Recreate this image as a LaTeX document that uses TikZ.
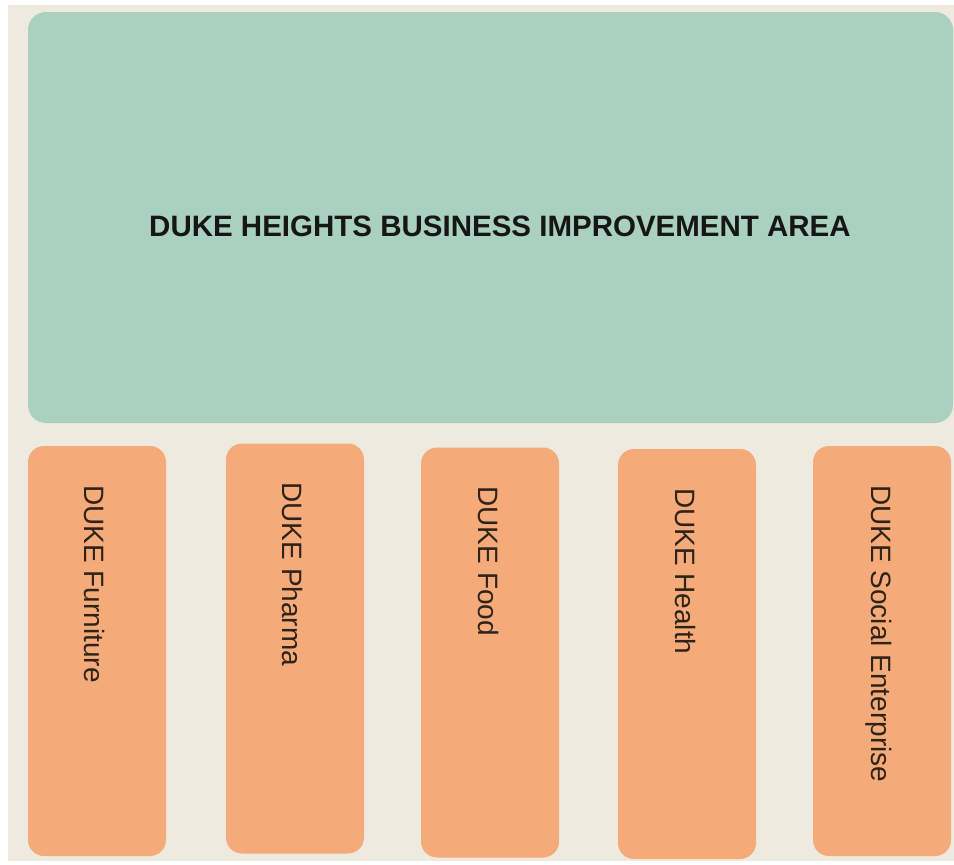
\documentclass[tikz,border=0pt]{standalone}
\usepackage{fontspec}
\setmainfont{Liberation Sans}
\usepackage{tikz}

\definecolor{paper}{HTML}{EEEAE0}
\definecolor{areagreen}{HTML}{AAD1C0}
\definecolor{unitorange}{HTML}{F5AB79}
\definecolor{inkdark}{HTML}{161616}
\definecolor{inkbrown}{HTML}{2E2219}

\begin{document}
\begin{tikzpicture}[x=1pt, y=-1pt]
\tikzstyle{area}=[draw=none, fill=areagreen, rounded corners=18pt, minimum width=925pt, minimum height=411pt, inner sep=0pt];
\tikzstyle{unit}=[draw=none, fill=unitorange, rounded corners=16pt, minimum width=138pt, minimum height=410pt, inner sep=0pt];
\tikzstyle{unitlabel}=[rotate=-90, anchor=base west, inner sep=0pt, text=inkbrown, font=\fontsize{28}{30}\selectfont];
\useasboundingbox (0,0) rectangle (954,865);
\fill[paper] (8,5) rectangle (954,861);
% the area on top
\path (490.5,217.5) node[area] (bia) {};
\path (bia.center) ++(9.5,9) node[text=inkdark, font=\fontsize{29.5}{31}\selectfont\bfseries] (biatitle) {DUKE HEIGHTS BUSINESS IMPROVEMENT AREA};
% the five units below it
\path (97,651) node[unit] (furniture) {};
\path (295,648.5) node[unit] (pharma) {};
\path (490,652.5) node[unit] (food) {};
\path (687,654) node[unit] (health) {};
\path (882,651) node[unit] (social) {};
\path ([xshift=57pt, yshift=-39pt]furniture.north west) node[unitlabel] (furniturelabel) {DUKE Furniture};
\path ([xshift=57pt, yshift=-39pt]pharma.north west) node[unitlabel] (pharmalabel) {DUKE Pharma};
\path ([xshift=58pt, yshift=-39pt]food.north west) node[unitlabel] (foodlabel) {DUKE Food};
\path ([xshift=58pt, yshift=-39pt]health.north west) node[unitlabel] (healthlabel) {DUKE Health};
\path ([xshift=59pt, yshift=-39pt]social.north west) node[unitlabel] (sociallabel) {DUKE Social Enterprise};
\end{tikzpicture}
\end{document}
